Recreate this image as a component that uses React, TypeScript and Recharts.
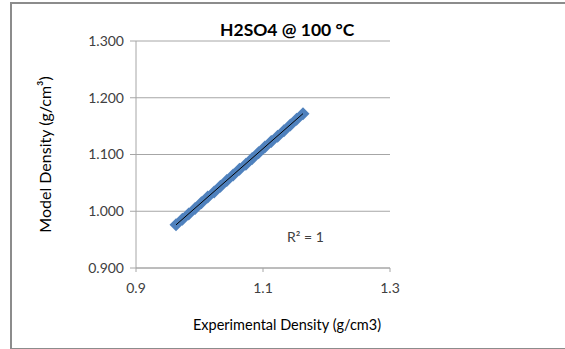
import {
  ScatterChart,
  Scatter,
  XAxis,
  YAxis,
  CartesianGrid,
  Label,
} from "recharts";

// experimental vs model density, H2SO4 @ 100 °C
const experimental = [
  0.963, 0.973, 0.983, 0.993, 1.003, 1.013, 1.023, 1.033, 1.043, 1.053, 1.063,
  1.073, 1.083, 1.093, 1.103, 1.113, 1.123, 1.133, 1.143, 1.153, 1.163,
];
const model = [
  0.976, 0.986, 0.995, 1.005, 1.015, 1.025, 1.034, 1.044, 1.054, 1.064, 1.074,
  1.083, 1.093, 1.103, 1.113, 1.123, 1.132, 1.142, 1.152, 1.162, 1.172,
];

// linear trendline end points
const trendX = [0.963, 1.163];
const trendY = [0.976, 1.172];

const xTicks = [0.9, 1.1, 1.3];
const yTicks = [0.9, 1.0, 1.1, 1.2, 1.3];

const points = experimental.map((x, i) => ({ x, y: model[i] }));
const trend = trendX.map((x, i) => ({ x, y: trendY[i] }));

const FONT = "Lato, 'Open Sans', sans-serif";
const BLUE = "#4F81BD";
const GRID = "#a6a6a6";

function Diamond(props: any) {
  const { cx, cy } = props;
  const r = 6.5;
  return (
    <polygon
      points={`${cx},${cy - r} ${cx + r},${cy} ${cx},${cy + r} ${cx - r},${cy}`}
      fill={BLUE}
    />
  );
}

const NoDot = () => <g />;

export default function App() {
  return (
    <div
      style={{
        position: "absolute",
        left: 0,
        top: 0,
        width: 565,
        height: 349,
        background: "#fff",
        fontFamily: FONT,
      }}
    >
      <div
        style={{
          position: "absolute",
          left: 10,
          top: 2,
          width: 565,
          height: 344,
          border: "2px solid #8c8c8c",
          borderRight: "none",
        }}
      />
      <div
        style={{
          position: "absolute",
          left: 220,
          top: 19,
          fontWeight: "bold",
          fontSize: 17.5,
          color: "#000",
          whiteSpace: "nowrap",
        }}
      >
        H2SO4 @ 100 °C
      </div>
      <div
        style={{
          position: "absolute",
          left: 287,
          top: 228,
          fontSize: 14,
          color: "#404040",
        }}
      >
        R² = 1
      </div>
      <ScatterChart
        width={565}
        height={349}
        margin={{ top: 41, right: 175, bottom: 51, left: 76 }}
        style={{ position: "absolute", left: 0, top: 0 }}
      >
        <CartesianGrid vertical={false} stroke={GRID} strokeWidth={1} />
        <XAxis
          type="number"
          dataKey="x"
          domain={[0.9, 1.3]}
          ticks={xTicks}
          tickFormatter={(v: number) => v.toFixed(1)}
          stroke={GRID}
          tickSize={4}
          height={30}
          tick={{ fill: "#404040", fontSize: 14, fontFamily: FONT }}
          tickMargin={11}
        >
          <Label
            value="Experimental Density (g/cm3)"
            position="insideBottom"
            offset={-32}
            dx={24}
            style={{ fill: "#000", fontSize: 14.5, fontFamily: FONT }}
          />
        </XAxis>
        <YAxis
          type="number"
          dataKey="y"
          domain={[0.9, 1.3]}
          ticks={yTicks}
          tickFormatter={(v: number) => v.toFixed(3)}
          stroke={GRID}
          tickSize={6}
          width={60}
          tick={{ fill: "#404040", fontSize: 14, fontFamily: FONT }}
          tickMargin={6}
        >
          <Label
            value="Model Density (g/cm³)"
            angle={-90}
            position="left"
            offset={31}
            style={{
              fill: "#000",
              fontSize: 16,
              fontFamily: FONT,
              textAnchor: "middle",
            }}
          />
        </YAxis>
        <Scatter
          data={points}
          shape={Diamond}
          isAnimationActive={false}
        />
        <Scatter
          data={trend}
          line={{ stroke: "#000", strokeWidth: 1 }}
          shape={NoDot}
          isAnimationActive={false}
        />
      </ScatterChart>
    </div>
  );
}
